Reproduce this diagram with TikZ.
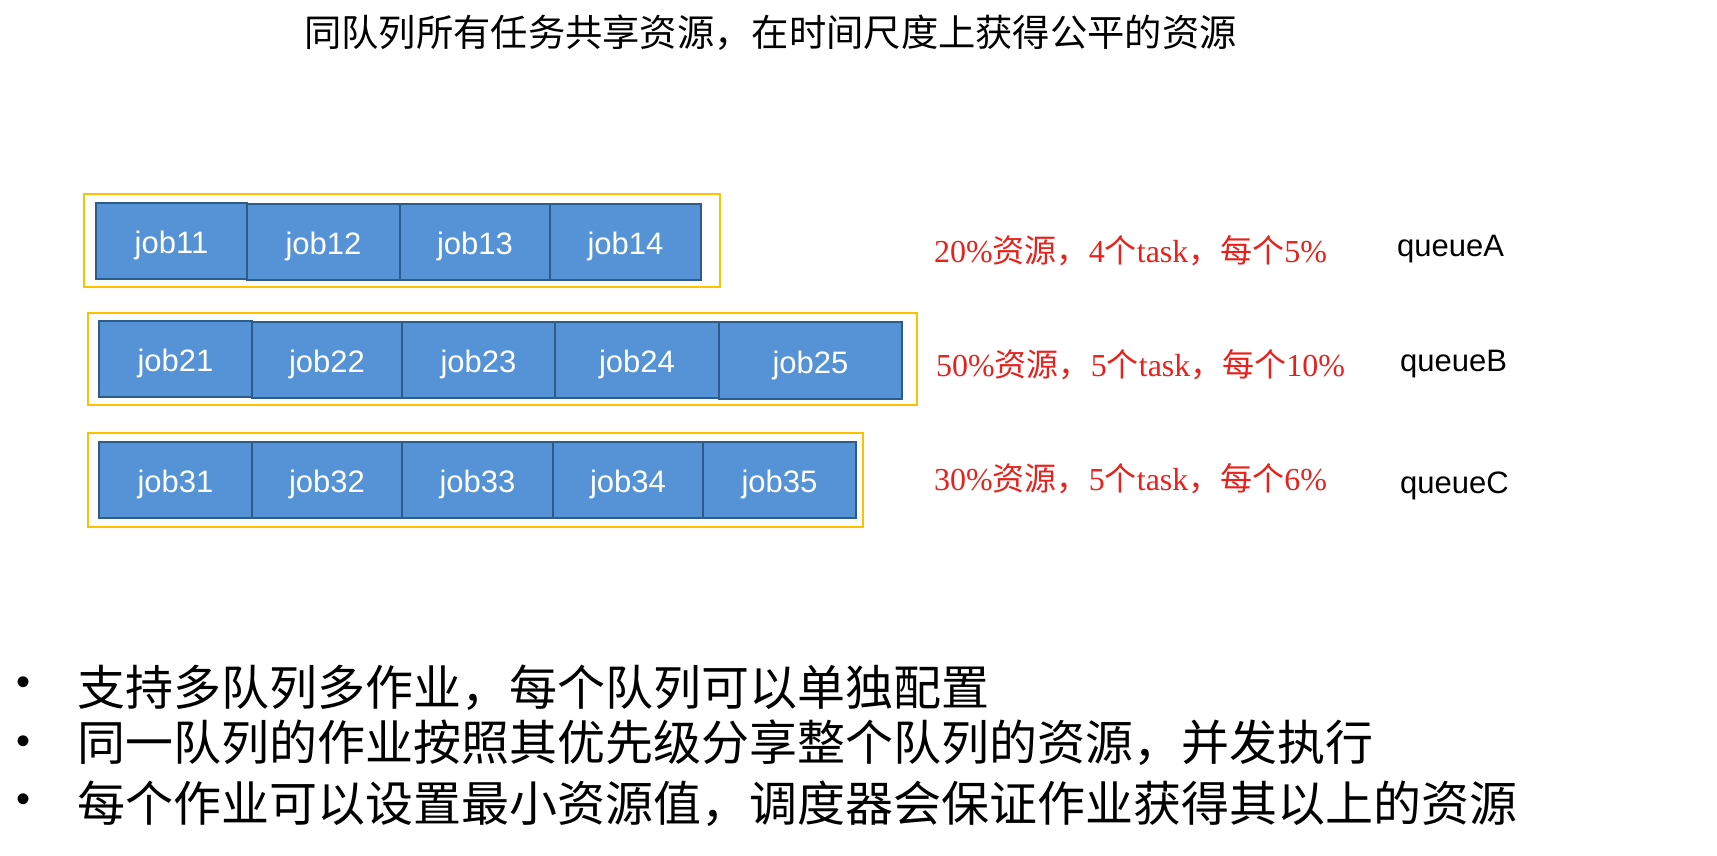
\documentclass[tikz,border=0pt]{standalone}
\usepackage{fontspec}
\setmainfont{Liberation Sans}
\newfontfamily\cjk{Noto Sans CJK SC}
\newfontfamily\serifa{Liberation Serif}
\definecolor{jobfill}{HTML}{5593D6}
\definecolor{jobdraw}{HTML}{2E5C8A}
\definecolor{qyellow}{HTML}{FFC000}
\definecolor{redtxt}{HTML}{E8211C}
\newcommand\zh[1]{{\cjk #1}}
\begin{document}
\begin{tikzpicture}[x=1pt,y=-1pt,
  jobbox/.style={draw=jobdraw, line width=1.4pt, fill=jobfill, text=white,
    font=\fontsize{31}{31}\selectfont, text height=25pt, text depth=0pt,
    inner sep=0pt, outer sep=0pt, anchor=north west},
  queuebox/.style={draw=qyellow, line width=2.6pt, inner sep=0pt, outer sep=0pt, anchor=north west},
  restxt/.style={text=redtxt, font=\serifa\fontsize{32}{32}\selectfont, anchor=west, inner sep=0pt},
  qlabel/.style={text=black, font=\fontsize{31}{31}\selectfont, anchor=west, inner sep=0pt},
  bullet/.style={font=\cjk\fontsize{48}{48}\selectfont, anchor=west, inner sep=0pt}]
\useasboundingbox (0,0) rectangle (1717,855);
\fill[white] (0,0) rectangle (1717,855);

% title
\node[font=\cjk\fontsize{37.3}{37.3}\selectfont, anchor=west, inner sep=0pt] (title) at (304,33)
  {同队列所有任务共享资源，在时间尺度上获得公平的资源};

% queue A
\node[queuebox, minimum width=636, minimum height=93] (qa) at (84,194) {};
\node[jobbox, minimum width=151, minimum height=76] (j11) at (96,203) {job11};
\node[jobbox, minimum width=153, minimum height=76] (j12) at (247,204) {job12};
\node[jobbox, minimum width=150, minimum height=76] (j13) at (400,204) {job13};
\node[jobbox, minimum width=151, minimum height=76] (j14) at (550,204) {job14};

% queue B
\node[queuebox, minimum width=829, minimum height=92] (qb) at (88,313) {};
\node[jobbox, minimum width=153, minimum height=76] (j21) at (99,321) {job21};
\node[jobbox, minimum width=150, minimum height=76] (j22) at (252,322) {job22};
\node[jobbox, minimum width=153, minimum height=76] (j23) at (402,322) {job23};
\node[jobbox, minimum width=164, minimum height=76] (j24) at (555,322) {job24};
\node[jobbox, minimum width=183, minimum height=77] (j25) at (719,322) {job25};

% queue C
\node[queuebox, minimum width=775, minimum height=94] (qc) at (88,433) {};
\node[jobbox, minimum width=153, minimum height=76] (j31) at (99,442) {job31};
\node[jobbox, minimum width=150, minimum height=76] (j32) at (252,442) {job32};
\node[jobbox, minimum width=151, minimum height=76] (j33) at (402,442) {job33};
\node[jobbox, minimum width=150, minimum height=76] (j34) at (553,442) {job34};
\node[jobbox, minimum width=153, minimum height=76] (j35) at (703,442) {job35};

% resource texts
\node[restxt] (ra) at (934,251) {20\%\zh{资源，}4\zh{个}task\zh{，每个}5\%};
\node[restxt] (rb) at (936,365) {50\%\zh{资源，}5\zh{个}task\zh{，每个}10\%};
\node[restxt] (rc) at (934,479) {30\%\zh{资源，}5\zh{个}task\zh{，每个}6\%};

% queue labels
\node[qlabel] (la) at (1397,249) {queueA};
\node[qlabel] (lb) at (1400,364) {queueB};
\node[qlabel] (lc) at (1400,486) {queueC};

% bullets
\node[font=\fontsize{40}{40}\selectfont, inner sep=0pt] (b1) at (24,686) {•};
\node[font=\fontsize{40}{40}\selectfont, inner sep=0pt] (b2) at (24,745) {•};
\node[font=\fontsize{40}{40}\selectfont, inner sep=0pt] (b3) at (24,803) {•};
\node[bullet] (t1) at (77,688) {支持多队列多作业，每个队列可以单独配置};
\node[bullet] (t2) at (77,743) {同一队列的作业按照其优先级分享整个队列的资源，并发执行};
\node[bullet] (t3) at (77,804) {每个作业可以设置最小资源值，调度器会保证作业获得其以上的资源};
\end{tikzpicture}
\end{document}
